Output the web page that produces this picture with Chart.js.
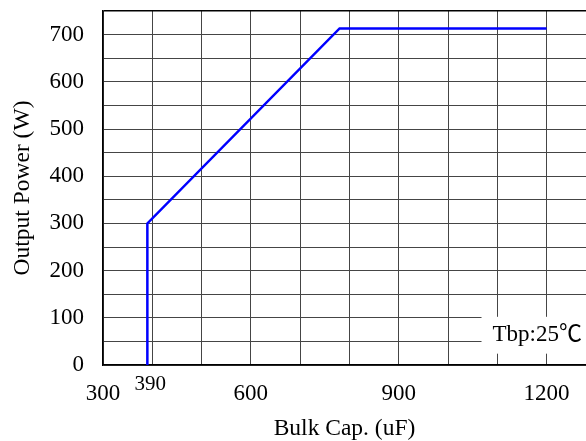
<!DOCTYPE html>
<html>
<head>
<meta charset="utf-8">
<script src="https://cdn.jsdelivr.net/npm/chart.js@4.4.1/dist/chart.umd.min.js"></script>
<style>
  body { margin: 0; background: #fff; }
  #wrap { width: 586px; height: 441px; }
</style>
</head>
<body>
<div id="wrap"><canvas id="powerChart" width="586" height="441"></canvas></div>
<script>
    // curve
    const capValues = [390, 390, 780, 1200];
    const powerValues = [0, 300, 713, 713];

    const xTickLabels = [300, 600, 900, 1200];
    const yTickLabels = [0, 100, 200, 300, 400, 500, 600, 700];
    const xGridStep = 100;
    const yGridStep = 50;
    const xMin = 300, xMax = 1280;
    const yMin = 0, yMax = 750;
    const markCap = 390;
    const noteText = 'Tbp:25℃';

    const serif = "'Liberation Serif', 'Times New Roman', 'DejaVu Serif', serif";
    const noteFont = "'Liberation Serif', 'Noto Sans CJK SC', serif";

    function stepTicks(min, max, step) {
        const out = [];
        for (let v = min; v <= max + 0.001; v += step) out.push({ value: v });
        return out;
    }

    const extraLabels = {
        id: 'extraLabels',
        afterDraw(chart) {
            const ctx = chart.ctx;
            const xs = chart.scales.x;
            const ys = chart.scales.y;
            ctx.save();
            // note box
            const bx = xs.getPixelForValue(1068);
            const byTop = ys.getPixelForValue(100) - 1;
            const byBot = ys.getPixelForValue(24);
            ctx.fillStyle = '#fff';
            ctx.fillRect(bx, byTop, chart.width - bx, byBot - byTop);
            ctx.fillStyle = '#000';
            ctx.font = '23px ' + noteFont;
            ctx.textAlign = 'left';
            ctx.textBaseline = 'middle';
            ctx.fillText(noteText, bx + 11, (byTop + byBot) / 2);
            // raised 390 label
            ctx.font = '21px ' + serif;
            ctx.textAlign = 'center';
            ctx.fillText(String(markCap), xs.getPixelForValue(markCap) + 3, chart.chartArea.bottom + 19);
            ctx.restore();
        }
    };

    const ctx = document.getElementById('powerChart').getContext('2d');
    const powerChart = new Chart(ctx, {
        type: 'line',
        data: {
            datasets: [{
                label: 'Output Power',
                data: capValues.map((c, i) => ({ x: c, y: powerValues[i] })),
                borderColor: '#0000ff',
                borderWidth: 2.5,
                pointRadius: 0,
                fill: false,
                tension: 0
            }]
        },
        options: {
            responsive: false,
            animation: false,
            layout: { padding: { top: 11, right: 0, left: 0, bottom: 0 } },
            plugins: {
                legend: { display: false },
                tooltip: { enabled: false }
            },
            scales: {
                x: {
                    type: 'linear',
                    min: xMin,
                    max: xMax,
                    afterBuildTicks: (scale) => { scale.ticks = stepTicks(xMin, 1200, xGridStep); },
                    afterFit: (scale) => {
                        scale.height = 76;
                        scale.paddingLeft = 0;
                        scale.paddingRight = 0;
                    },
                    ticks: {
                        autoSkip: false,
                        maxRotation: 0,
                        padding: 15,
                        color: '#000',
                        font: { family: serif, size: 23 },
                        callback: (v) => xTickLabels.includes(v) ? String(v) : ''
                    },
                    grid: { color: '#454545', lineWidth: 1, drawTicks: false },
                    border: { color: '#000', width: 1.5 },
                    title: {
                        display: true,
                        text: 'Bulk Cap. (uF)',
                        color: '#000',
                        font: { family: serif, size: 23.5, lineHeight: 1 },
                        padding: { top: 0, bottom: 0 }
                    }
                },
                y: {
                    min: yMin,
                    max: yMax,
                    afterBuildTicks: (scale) => { scale.ticks = stepTicks(yMin, yMax, yGridStep); },
                    afterFit: (scale) => {
                        scale.width = 103;
                        scale.paddingTop = 0;
                        scale.paddingBottom = 0;
                    },
                    ticks: {
                        autoSkip: false,
                        padding: 19,
                        color: '#000',
                        font: { family: serif, size: 23 },
                        callback: (v) => yTickLabels.includes(v) ? String(v) : ''
                    },
                    grid: {
                        color: (c) => c.tick && c.tick.value === yMax ? '#000' : '#454545',
                        lineWidth: (c) => c.tick && c.tick.value === yMax ? 1.5 : 1,
                        drawTicks: false
                    },
                    border: { color: '#000', width: 1.5 },
                    title: {
                        display: true,
                        text: 'Output Power (W)',
                        color: '#000',
                        font: { family: serif, size: 23.5, lineHeight: 1 },
                        padding: { top: 11, bottom: 0 }
                    }
                }
            }
        },
        plugins: [extraLabels]
    });
</script>
</body>
</html>
